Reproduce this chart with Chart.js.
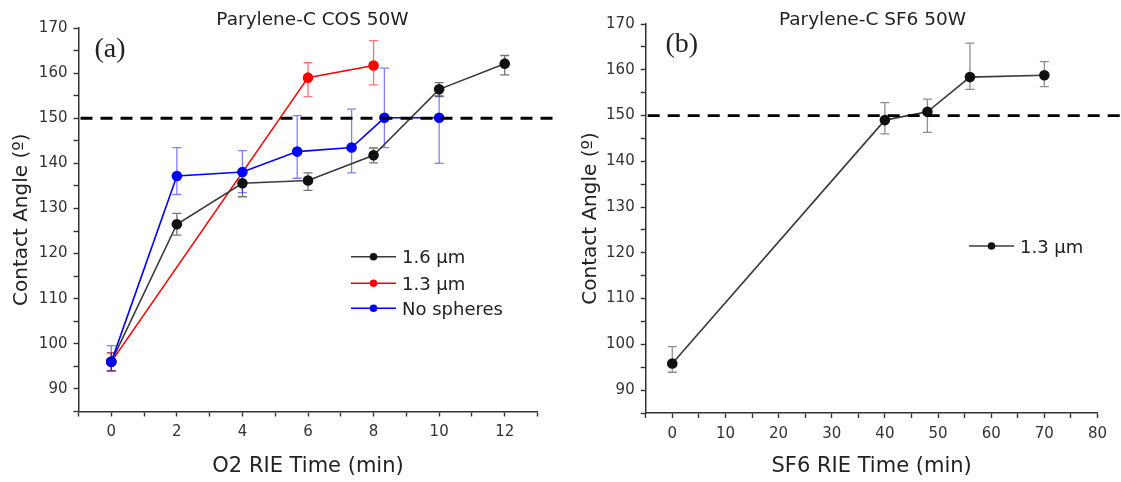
<!DOCTYPE html>
<html>
<head>
<meta charset="utf-8">
<title>Parylene-C contact angle</title>
<script src="https://cdn.jsdelivr.net/npm/chart.js@4.4.1/dist/chart.umd.min.js"></script>
<style>
  body { margin: 0; background: #fff; }
  #wrap { position: relative; width: 1121px; height: 482px; }
  #left { position: absolute; left: 0; top: 0; }
  #right { position: absolute; left: 560px; top: 0; }
</style>
</head>
<body>
<div id="wrap">
  <canvas id="left" width="560" height="482"></canvas>
  <canvas id="right" width="561" height="482"></canvas>
</div>
<script>
// (a) O2 RIE, COS 50W
const o2Time16 = [0, 2, 4, 6, 8, 10, 12];
const o2Angle16 = [96, 126.5, 135.6, 136.2, 141.8, 156.4, 162.1];
const o2Hi16 = [98, 128.9, 138.4, 137.9, 143.4, 157.9, 163.9];
const o2Lo16 = [94, 124.1, 132.6, 134.0, 140.1, 154.8, 159.6];

const o2Time13 = [0, 6, 8];
const o2Angle13 = [96, 159.0, 161.7];
const o2Hi13 = [98, 162.3, 167.2];
const o2Lo13 = [94, 154.8, 157.4];

const o2TimeNone = [0, 2, 4, 5.67, 7.33, 8.33, 10];
const o2AngleNone = [96, 137.2, 138.1, 142.6, 143.5, 150.1, 150.1];
const o2HiNone = [99.6, 143.5, 142.8, 150.6, 152.0, 161.1, 155.0];
const o2LoNone = [94, 133.1, 133.5, 136.7, 137.9, 143.5, 140.0];

// (b) SF6 RIE, 1.3 um spheres
const sf6Time = [0, 40, 48, 56, 70];
const sf6Angle = [95.8, 149.0, 150.8, 158.4, 158.8];
const sf6Hi = [99.5, 152.8, 153.6, 165.8, 161.8];
const sf6Lo = [93.9, 146.0, 146.3, 155.7, 156.3];

const superhydrophobic = 150;

Chart.defaults.font.family = "'DejaVu Sans', sans-serif";
Chart.defaults.color = '#333';

function points(xs, ys) {
  return xs.map((x, i) => ({ x: x, y: ys[i] }));
}

function series(label, xs, ys, hi, lo, color, dot, errColor, order) {
  return {
    label: label,
    data: points(xs, ys),
    errHi: hi,
    errLo: lo,
    errColor: errColor,
    borderColor: color,
    backgroundColor: dot,
    pointBackgroundColor: dot,
    pointBorderColor: dot,
    borderWidth: 1.6,
    pointRadius: 4.5,
    pointHoverRadius: 4.5,
    tension: 0,
    order: order
  };
}

// error bars under the markers
const errorBars = {
  id: 'errorBars',
  beforeDatasetsDraw(chart) {
    const { ctx, scales } = chart;
    chart.data.datasets.forEach(ds => {
      if (!ds.errHi) return;
      ctx.save();
      ctx.strokeStyle = ds.errColor;
      ctx.lineWidth = 1.3;
      ds.data.forEach((p, j) => {
        const x = scales.x.getPixelForValue(p.x);
        const yh = scales.y.getPixelForValue(ds.errHi[j]);
        const yl = scales.y.getPixelForValue(ds.errLo[j]);
        ctx.beginPath();
        ctx.moveTo(x, yh); ctx.lineTo(x, yl);
        ctx.moveTo(x - 4.5, yh); ctx.lineTo(x + 4.5, yh);
        ctx.moveTo(x - 4.5, yl); ctx.lineTo(x + 4.5, yl);
        ctx.stroke();
      });
      ctx.restore();
    });
  }
};

// dashed 150 deg line, runs to the edge of the canvas
const refLine = {
  id: 'refLine',
  afterDatasetsDraw(chart) {
    const { ctx, chartArea, scales } = chart;
    const y = scales.y.getPixelForValue(superhydrophobic);
    ctx.save();
    ctx.setLineDash([12, 8]);
    ctx.lineWidth = 2.8;
    ctx.strokeStyle = '#000';
    ctx.beginPath();
    ctx.moveTo(chartArea.left + 2, y);
    ctx.lineTo(chart.width, y);
    ctx.stroke();
    ctx.restore();
  }
};

// title, panel letter and legend
const panelText = {
  id: 'panelText',
  afterDraw(chart) {
    const o = chart.options.plugins.panelText;
    const ctx = chart.ctx;
    ctx.save();
    ctx.fillStyle = '#222';
    ctx.textAlign = 'center';
    ctx.textBaseline = 'middle';
    ctx.font = "18.5px 'DejaVu Sans', sans-serif";
    ctx.fillText(o.title, o.titleX, o.titleY);
    ctx.font = "28px 'Liberation Serif', serif";
    ctx.fillText(o.letter, o.letterX, o.letterY);

    ctx.font = "18px 'DejaVu Sans', sans-serif";
    ctx.textAlign = 'left';
    ctx.textBaseline = 'alphabetic';
    o.legendRows.forEach((y, i) => {
      const ds = chart.data.datasets[i];
      ctx.strokeStyle = ds.borderColor;
      ctx.lineWidth = 1.6;
      ctx.beginPath();
      ctx.moveTo(o.legendX, y);
      ctx.lineTo(o.legendX + 45, y);
      ctx.stroke();
      ctx.fillStyle = ds.pointBackgroundColor;
      ctx.beginPath();
      ctx.arc(o.legendX + 22.5, y, 3.8, 0, Math.PI * 2);
      ctx.fill();
      ctx.fillStyle = '#222';
      ctx.fillText(ds.label, o.legendX + 51, y + 6.5);
    });
    ctx.restore();
  }
};

function makePanel(id, cfg) {
  const canvas = document.getElementById(id);
  const W = canvas.width, H = canvas.height;
  const tickGrid = {
    display: true,
    drawOnChartArea: false,
    drawTicks: true,
    tickLength: 5,
    tickColor: '#333',
    tickWidth: 1.4
  };
  return new Chart(canvas, {
    type: 'line',
    data: { datasets: cfg.datasets },
    plugins: [errorBars, refLine, panelText],
    options: {
      responsive: false,
      animation: false,
      devicePixelRatio: 1,
      events: [],
      layout: { padding: { left: 0, top: cfg.area.top, right: W - cfg.area.right, bottom: 0 } },
      plugins: {
        legend: { display: false },
        tooltip: { enabled: false },
        panelText: cfg.text
      },
      scales: {
        x: {
          type: 'linear',
          min: cfg.xMin,
          max: cfg.xMax,
          ticks: {
            stepSize: cfg.xStep,
            autoSkip: false,
            maxRotation: 0,
            padding: 7,
            color: '#333',
            font: { size: 15 },
            callback: v => (v % cfg.xLabelEvery === 0 ? v : '')
          },
          grid: tickGrid,
          border: { display: true, color: '#333', width: 1.5 },
          title: {
            display: true,
            text: cfg.xTitle,
            color: '#222',
            font: { size: 21 },
            padding: { top: 0, bottom: 3 }
          },
          afterFit: s => { s.height = H - cfg.area.bottom; }
        },
        y: {
          min: 85,
          max: 170,
          ticks: {
            stepSize: 5,
            autoSkip: false,
            padding: 6,
            color: '#333',
            font: { size: 15 },
            callback: v => (v % 10 === 0 ? v : '')
          },
          grid: tickGrid,
          border: { display: true, color: '#333', width: 1.5 },
          title: {
            display: true,
            text: 'Contact Angle (º)',
            color: '#222',
            font: { size: 20 },
            padding: { top: cfg.yTitlePad, bottom: 0 }
          },
          afterFit: s => { s.width = cfg.area.left; }
        }
      }
    }
  });
}

makePanel('left', {
  datasets: [
    series('1.6 μm', o2Time16, o2Angle16, o2Hi16, o2Lo16, '#3a3a3a', '#111', 'rgba(0,0,0,0.55)', 1),
    series('1.3 μm', o2Time13, o2Angle13, o2Hi13, o2Lo13, '#ff0000', '#ff0000', 'rgba(255,0,0,0.55)', 2),
    series('No spheres', o2TimeNone, o2AngleNone, o2HiNone, o2LoNone, '#0000ff', '#0000ff', 'rgba(0,0,255,0.5)', 0)
  ],
  area: { left: 78.5, right: 537.5, top: 28, bottom: 411.5 },
  xMin: -1, xMax: 13, xStep: 1, xLabelEvery: 2,
  xTitle: 'O2 RIE Time (min)',
  yTitlePad: 9.5,
  text: {
    title: 'Parylene-C COS 50W', titleX: 312.5, titleY: 20.5,
    letter: '(a)', letterX: 110, letterY: 50,
    legendX: 351, legendRows: [256.7, 283.3, 308.3]
  }
});

makePanel('right', {
  datasets: [
    series('1.3 μm', sf6Time, sf6Angle, sf6Hi, sf6Lo, '#3a3a3a', '#111', 'rgba(0,0,0,0.45)', 0)
  ],
  area: { left: 85.7, right: 537.5, top: 24, bottom: 413 },
  xMin: -5, xMax: 80, xStep: 5, xLabelEvery: 10,
  xTitle: 'SF6 RIE Time (min)',
  yTitlePad: 18.5,
  text: {
    title: 'Parylene-C SF6 50W', titleX: 312.5, titleY: 20,
    letter: '(b)', letterX: 121.8, letterY: 44.5,
    legendX: 409, legendRows: [246]
  }
});
</script>
</body>
</html>
